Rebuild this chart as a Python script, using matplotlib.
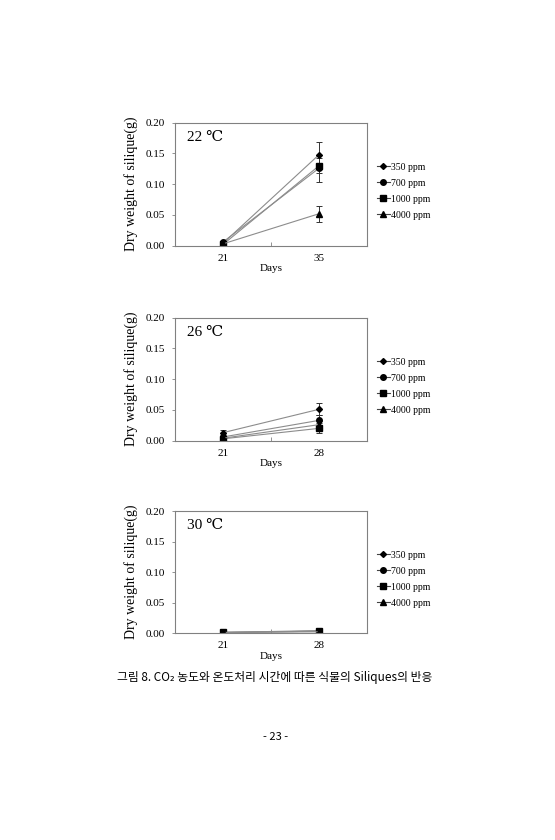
import numpy as np
import matplotlib
matplotlib.use("Agg")
import matplotlib.pyplot as plt
from matplotlib.lines import Line2D

plt.rcParams["font.family"] = ["Liberation Serif", "DejaVu Serif"]

# data
series = ["350 ppm", "700 ppm", "1000 ppm", "4000 ppm"]
markers = ["D", "o", "s", "^"]
msizes = [3.0, 4.0, 4.0, 4.0]

temps = ["22 \u2103", "26 \u2103", "30 \u2103"]
day_labels = [["21", "35"], ["21", "28"], ["21", "28"]]

# values per panel: rows = series, cols = day
vals_22 = [[0.004, 0.148], [0.006, 0.126], [0.002, 0.130], [0.003, 0.052]]
errs_22 = [[0.002, 0.020], [0.002, 0.022], [0.001, 0.012], [0.001, 0.013]]
vals_26 = [[0.013, 0.051], [0.006, 0.033], [0.003, 0.020], [0.004, 0.026]]
errs_26 = [[0.004, 0.010], [0.002, 0.008], [0.001, 0.008], [0.001, 0.006]]
vals_30 = [[0.001, 0.004], [0.001, 0.003], [0.001, 0.003], [0.001, 0.002]]
errs_30 = [[0.000, 0.001], [0.000, 0.001], [0.000, 0.001], [0.000, 0.001]]

panel_vals = [vals_22, vals_26, vals_30]
panel_errs = [errs_22, errs_26, errs_30]

yticks = [0.00, 0.05, 0.10, 0.15, 0.20]

fig = plt.figure(figsize=(5.55, 8.4), dpi=100)

# axes rectangles in figure fraction (left, bottom, width, height)
rects = [
    (0.3153, 0.7075, 0.346, 0.1464),
    (0.3153, 0.4754, 0.346, 0.1464),
    (0.3153, 0.2464, 0.346, 0.1452),
]

spine_col = "#808080"
line_col = "#8c8c8c"

for p in range(3):
    ax = fig.add_axes(rects[p])
    x = np.array([0.5, 1.5])
    handles = []
    for i, name in enumerate(series):
        ax.errorbar(x, panel_vals[p][i], yerr=panel_errs[p][i],
                    color=line_col, lw=0.8, ecolor="#333333", elinewidth=0.7,
                    capsize=2, capthick=0.7, marker=markers[i],
                    ms=msizes[i], mfc="black", mec="black")
        handles.append(Line2D([], [], color="#444444", lw=0.8,
                              marker=markers[i], ms=msizes[i],
                              mfc="black", mec="black", label=name))

    ax.set_xlim(0, 2)
    ax.set_ylim(0, 0.20)
    ax.set_yticks(yticks)
    ax.set_yticklabels([f"{v:.2f}" for v in yticks], fontsize=8)
    ax.tick_params(axis="y", direction="out", length=2, width=0.6,
                   color=spine_col, pad=5)

    # category axis: ticks between categories, labels at centres
    ax.set_xticks([0, 1, 2])
    ax.set_xticklabels([])
    ax.tick_params(axis="x", which="major", direction="in", length=3,
                   width=0.6, color=spine_col)
    ax.set_xticks(x, minor=True)
    ax.set_xticklabels(day_labels[p], minor=True, fontsize=8)
    ax.tick_params(axis="x", which="minor", length=0, pad=6)

    for s in ax.spines.values():
        s.set_color(spine_col)
        s.set_linewidth(0.8)

    ax.set_xlabel("Days", fontsize=8, labelpad=1)
    ax.set_ylabel("Dry weight of silique(g)", fontsize=10, labelpad=6)
    ax.text(0.06, 0.88, temps[p], transform=ax.transAxes, fontsize=11,
            va="center", ha="left")

    ax.legend(handles=handles, loc="upper left", bbox_to_anchor=(1.05, 0.675),
              frameon=False, fontsize=7, handlelength=1.4, handletextpad=0.1,
              labelspacing=0.72, borderpad=0, borderaxespad=0)

fig.text(0.495, 1 - 678 / 840,
         "그림 8. CO\u2082 농도와 온도처리 시간에 따른 식물의 Siliques의 반응",
         family=["Noto Sans CJK KR", "DejaVu Sans"], fontsize=8.5,
         ha="center", va="center")
fig.text(0.497, 1 - 737 / 840, "- 23 -", family=["Noto Sans CJK KR", "DejaVu Sans"],
         fontsize=8, ha="center", va="center")

fig.savefig("out.png", dpi=100)
